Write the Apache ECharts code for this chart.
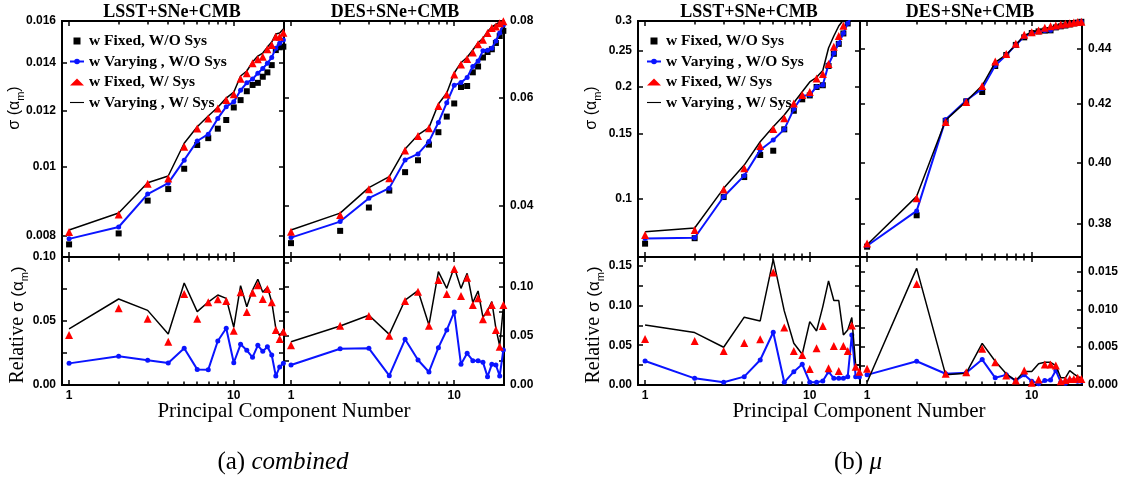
<!DOCTYPE html>
<html>
<head>
<meta charset="utf-8">
<title>PCA sigma(alpha_m)</title>
<script src="https://cdn.jsdelivr.net/npm/echarts@6/dist/echarts.min.js"></script>
<style>
  html, body { margin: 0; padding: 0; background: #fff; }
  #chart { width: 1122px; height: 478px; }
</style>
</head>
<body>
<div id="chart"></div>
<script>
// principal component number (x axis, log scale)
var pcNumber = [1, 2, 3, 4, 5, 6, 7, 8, 9, 10, 11, 12, 13, 14, 15, 16, 17, 18, 19, 20];
var xMajorTicks = [1, 10];
var xMinorTicks = [2, 3, 4, 5, 6, 7, 8, 9, 20];

var seriesNames = ['w Fixed, W/O Sys', 'w Varying , W/O Sys', 'w Fixed, W/ Sys', 'w Varying , W/ Sys'];

// (a) combined, LSST+SNe+CMB : sigma(alpha_m)
var aLsstFixedNoSys = [0.00779, 0.00807, 0.00897, 0.00931, 0.00994, 0.01073, 0.01097, 0.01131, 0.01163, 0.01211, 0.01240, 0.01276, 0.01302, 0.01311, 0.01337, 0.01356, 0.01388, 0.01457, 0.01470, 0.01473];
var aLsstVaryNoSys  = [0.00793, 0.00824, 0.00916, 0.00949, 0.01022, 0.01087, 0.01111, 0.01169, 0.01214, 0.01233, 0.01280, 0.01311, 0.01327, 0.01352, 0.01373, 0.01396, 0.01423, 0.01465, 0.01489, 0.01505];
var aLsstFixedSys   = [0.00811, 0.00858, 0.00947, 0.00963, 0.01067, 0.01132, 0.01169, 0.01207, 0.01240, 0.01264, 0.01328, 0.01352, 0.01396, 0.01414, 0.01426, 0.01461, 0.01481, 0.01521, 0.01521, 0.01541];
var aLsstVarySys    = [0.00816, 0.00862, 0.00950, 0.00971, 0.01079, 0.01138, 0.01178, 0.01212, 0.01248, 0.01272, 0.01340, 0.01362, 0.01402, 0.01429, 0.01443, 0.01471, 0.01495, 0.01534, 0.01539, 0.01559];
// relative sigma
var aLsstRelVaryNoSys = [0.0169, 0.0224, 0.0193, 0.0172, 0.0287, 0.0122, 0.0120, 0.0344, 0.0443, 0.0174, 0.0318, 0.0271, 0.0216, 0.0310, 0.0263, 0.0299, 0.0234, 0.0070, 0.0141, 0.0169];
var aLsstRelFixedSys  = [0.0390, 0.0599, 0.0518, 0.0338, 0.0711, 0.0518, 0.0646, 0.0669, 0.0656, 0.0424, 0.0724, 0.0570, 0.0721, 0.0779, 0.0672, 0.0750, 0.0646, 0.0430, 0.0359, 0.0416];
var aLsstRelVarySys   = [0.0438, 0.0672, 0.0583, 0.0398, 0.0797, 0.0573, 0.0648, 0.0703, 0.0677, 0.0451, 0.0776, 0.0612, 0.0742, 0.0826, 0.0724, 0.0763, 0.0651, 0.0443, 0.0385, 0.0430];

// (a) combined, DES+SNe+CMB
var aDesFixedNoSys = [0.03476, 0.03640, 0.03973, 0.04234, 0.04537, 0.04744, 0.05031, 0.05271, 0.05589, 0.05871, 0.06245, 0.06269, 0.06599, 0.06745, 0.06976, 0.07122, 0.07195, 0.07367, 0.07562, 0.07710];
var aDesVaryNoSys  = [0.03549, 0.03769, 0.04115, 0.04273, 0.04750, 0.04858, 0.05088, 0.05465, 0.05888, 0.06285, 0.06351, 0.06473, 0.06745, 0.06886, 0.07157, 0.07168, 0.07222, 0.07422, 0.07649, 0.07880];
var aDesFixedSys   = [0.03629, 0.03865, 0.04257, 0.04436, 0.04919, 0.05198, 0.05350, 0.05818, 0.06072, 0.06545, 0.06795, 0.06937, 0.07110, 0.07333, 0.07458, 0.07649, 0.07793, 0.07836, 0.07932, 0.07995];
var aDesVarySys    = [0.03653, 0.03890, 0.04282, 0.04462, 0.04950, 0.05217, 0.05362, 0.05859, 0.06106, 0.06582, 0.06841, 0.06982, 0.07175, 0.07374, 0.07498, 0.07688, 0.07822, 0.07896, 0.07970, 0.08060];
var aDesRelVaryNoSys = [0.0204, 0.0370, 0.0374, 0.0095, 0.0466, 0.0255, 0.0133, 0.0381, 0.0561, 0.0745, 0.0211, 0.0323, 0.0248, 0.0248, 0.0231, 0.0085, 0.0211, 0.0204, 0.0092, 0.0357];
var aDesRelFixedSys  = [0.0405, 0.0605, 0.0704, 0.0503, 0.0857, 0.0952, 0.0605, 0.1071, 0.0929, 0.1184, 0.0908, 0.1095, 0.0816, 0.0885, 0.0670, 0.0748, 0.0816, 0.0561, 0.0391, 0.0816];
var aDesRelVarySys   = [0.0442, 0.0602, 0.0711, 0.0517, 0.0867, 0.0962, 0.0612, 0.1156, 0.0986, 0.1201, 0.0986, 0.1140, 0.0840, 0.0959, 0.0691, 0.0758, 0.0850, 0.0578, 0.0398, 0.0799];

// (b) mu, LSST+SNe+CMB
var bLsstFixedNoSys = [0.0759, 0.0785, 0.1012, 0.1145, 0.1312, 0.1347, 0.1537, 0.1724, 0.1850, 0.1895, 0.1996, 0.2018, 0.2273, 0.2450, 0.2605, 0.2778, 0.2955, 0.309, 0.318, 0.325];
var bLsstVaryNoSys  = [0.0783, 0.0787, 0.1014, 0.1155, 0.1353, 0.1439, 0.1537, 0.1742, 0.1888, 0.1900, 0.2000, 0.2021, 0.2294, 0.2458, 0.2614, 0.2781, 0.2957, 0.309, 0.318, 0.325];
var bLsstFixedSys   = [0.0801, 0.0826, 0.1061, 0.1208, 0.1387, 0.1540, 0.1645, 0.1802, 0.1900, 0.1935, 0.2103, 0.2163, 0.2301, 0.2560, 0.2735, 0.2914, 0.3056, 0.317, 0.325, 0.330];
var bLsstVarySys    = [0.0817, 0.0836, 0.1068, 0.1233, 0.1424, 0.1562, 0.1679, 0.1812, 0.1939, 0.2059, 0.2119, 0.2210, 0.2539, 0.2735, 0.2909, 0.302, 0.311, 0.320, 0.330, 0.340];
var bLsstRelVaryNoSys = [0.0302, 0.0084, 0.0034, 0.0105, 0.0315, 0.0664, 0.0034, 0.0168, 0.0261, 0.0034, 0.0034, 0.0050, 0.0168, 0.0084, 0.0084, 0.0084, 0.0105, 0.0630, 0.0105, 0.0101];
var bLsstRelFixedSys  = [0.0579, 0.0554, 0.0428, 0.0529, 0.0576, 0.1414, 0.0722, 0.0428, 0.0378, 0.0202, 0.0462, 0.0743, 0.0210, 0.0491, 0.0176, 0.0491, 0.0428, 0.0747, 0.0230, 0.0168];
var bLsstRelVarySys   = [0.0756, 0.0659, 0.0475, 0.0853, 0.0806, 0.1580, 0.0932, 0.0525, 0.0387, 0.0797, 0.0680, 0.0986, 0.1310, 0.1062, 0.1062, 0.0630, 0.0693, 0.0848, 0.0252, 0.0252];

// (b) mu, DES+SNe+CMB
var bDesFixedNoSys = [0.3729, 0.3828, 0.4142, 0.4210, 0.4243, 0.4336, 0.4376, 0.4413, 0.4441, 0.4457, 0.4463, 0.4466, 0.4467, 0.4478, 0.4482, 0.4485, 0.4489, 0.4493, 0.4496, 0.4499];
var bDesVaryNoSys  = [0.3732, 0.3842, 0.4147, 0.4213, 0.4255, 0.4338, 0.4376, 0.4413, 0.4444, 0.4457, 0.4463, 0.4466, 0.4467, 0.4478, 0.4482, 0.4485, 0.4489, 0.4493, 0.4496, 0.4499];
var bDesFixedSys   = [0.3739, 0.3883, 0.4138, 0.4208, 0.4264, 0.4352, 0.4380, 0.4417, 0.4451, 0.4460, 0.4466, 0.4477, 0.4482, 0.4485, 0.4489, 0.4492, 0.4494, 0.4496, 0.4498, 0.4499];
var bDesVarySys    = [0.3735, 0.3889, 0.4144, 0.4210, 0.4266, 0.4349, 0.4377, 0.4414, 0.4448, 0.4460, 0.4468, 0.4474, 0.4479, 0.4483, 0.4487, 0.4490, 0.4493, 0.4495, 0.4497, 0.4499];
var bDesRelVaryNoSys = [0.00134, 0.00314, 0.00148, 0.00161, 0.00336, 0.00095, 0.00134, 0.00059, 0.00134, 0.00050, 0.00016, 0.00059, 0.00066, 0.00190, 0.00037, 0.00024, 0.00066, 0.00059, 0.00050, 0.00050];
var bDesRelFixedSys  = [0.00214, 0.01335, 0.00148, 0.00169, 0.00478, 0.00301, 0.00125, 0.00059, 0.00190, 0.00029, 0.00073, 0.00270, 0.00270, 0.00257, 0.00050, 0.00066, 0.00080, 0.00080, 0.00095, 0.00080];
var bDesRelVarySys   = [0.00037, 0.01540, 0.00134, 0.00156, 0.00550, 0.00314, 0.00148, 0.00059, 0.00178, 0.00178, 0.00280, 0.00300, 0.00300, 0.00257, 0.00095, 0.00095, 0.00190, 0.00148, 0.00110, 0.00095];

// tick labels
var aLsstTopLabels = ['0.008', '0.01', '0.012', '0.014', '0.016'];
var aDesTopLabels = ['0.04', '0.06', '0.08'];
var bLsstTopLabels = ['0.1', '0.15', '0.2', '0.25', '0.3'];
var bDesTopLabels = ['0.38', '0.40', '0.42', '0.44'];
var aRelLabels = ['0.00', '0.05', '0.10'];
var bLsstRelLabels = ['0.00', '0.05', '0.10', '0.15'];
var bDesRelLabels = ['0.000', '0.005', '0.010', '0.015'];
var aLsstRelTicks = [0, 0.025, 0.05, 0.075, 0.1];
var aDesRelTicks = [0, 0.025, 0.05, 0.075, 0.1, 0.125];
var bLsstRelTicks = [0, 0.025, 0.05, 0.075, 0.1, 0.125, 0.15];
var bDesRelTicks = [0, 0.0025, 0.005, 0.0075, 0.01, 0.0125, 0.015];

var xMin = -0.043, xMax = 1.305;
var tickFont = { color: '#000', fontFamily: 'Liberation Sans', fontWeight: 'bold', fontSize: 12 };

var grids = [], xAxes = [], yAxes = [], series = [];

function addPanel(p) {
  var gi = grids.length;
  grids.push({ left: p.left, top: p.top, width: p.width, height: p.height, containLabel: false });
  var fy = p.logY ? function (v) { return Math.log10(v); } : function (v) { return v; };

  var xi = xAxes.length;
  [['bottom', xMajorTicks, 5, p.xLabels], ['bottom', xMinorTicks, 3.5, false],
   ['top', xMajorTicks, 5, false], ['top', xMinorTicks, 3.5, false]].forEach(function (a) {
    xAxes.push({
      type: 'value', gridIndex: gi, position: a[0], min: xMin, max: xMax,
      axisLine: { show: true, onZero: false, lineStyle: { color: '#000', width: 2 } },
      axisTick: { show: true, inside: true, length: a[2], customValues: a[1].map(Math.log10),
                  lineStyle: { color: '#000', width: 1.5 } },
      axisLabel: Object.assign({ show: a[3], margin: 5, customValues: xMajorTicks.map(Math.log10),
                  formatter: function (v) { return String(Math.round(Math.pow(10, v))); } }, tickFont),
      splitLine: { show: false }
    });
  });

  var yi = yAxes.length;
  var labelVals = p.yLabels.map(Number).map(fy);
  ['left', 'right'].forEach(function (pos) {
    yAxes.push({
      type: 'value', gridIndex: gi, position: pos, min: fy(p.yMin), max: fy(p.yMax),
      axisLine: { show: true, onZero: false, lineStyle: { color: '#000', width: 2 } },
      axisTick: { show: true, inside: true, length: 5, customValues: p.yTicks.map(fy),
                  lineStyle: { color: '#000', width: 1.5 } },
      axisLabel: Object.assign({
        show: pos === 'left' ? p.leftLabels : p.rightLabels, margin: 6, customValues: labelVals,
        formatter: function (v) {
          var best = '', bd = Infinity;
          labelVals.forEach(function (lv, i) { var d = Math.abs(lv - v); if (d < bd) { bd = d; best = p.yLabels[i]; } });
          return best;
        }
      }, tickFont),
      splitLine: { show: false }
    });
  });

  function pts(arr) {
    return pcNumber.map(function (n, i) { return [Math.log10(n), fy(arr[i])]; });
  }
  var base = { xAxisIndex: xi, yAxisIndex: yi, animation: false };
  if (p.data[0]) {
    series.push(Object.assign({ type: 'scatter', name: seriesNames[0], symbol: 'rect', symbolSize: 6,
      itemStyle: { color: '#000', opacity: 1 }, data: pts(p.data[0]), z: 2 }, base));
  }
  series.push(Object.assign({ type: 'line', name: seriesNames[1], symbol: 'circle', symbolSize: 5,
    showSymbol: true, itemStyle: { color: '#0a14ff', opacity: 1 }, lineStyle: { color: '#0a14ff', width: 2 },
    data: pts(p.data[1]), z: 3 }, base));
  series.push(Object.assign({ type: 'line', name: seriesNames[3], symbol: 'none',
    itemStyle: { color: '#000' }, lineStyle: { color: '#000', width: 1.5 },
    data: pts(p.data[3]), z: 4 }, base));
  series.push(Object.assign({ type: 'scatter', name: seriesNames[2], symbol: 'triangle', symbolSize: 8,
    itemStyle: { color: '#ff0000', opacity: 1 }, data: pts(p.data[2]), z: 5 }, base));
}

// panel (a) combined
addPanel({ left: 62, top: 21, width: 222, height: 236, logY: true, yMin: 0.00748, yMax: 0.016,
  yLabels: aLsstTopLabels, yTicks: aLsstTopLabels.map(Number), leftLabels: true, rightLabels: false, xLabels: false,
  data: [aLsstFixedNoSys, aLsstVaryNoSys, aLsstFixedSys, aLsstVarySys] });
addPanel({ left: 62, top: 257, width: 222, height: 128, logY: false, yMin: 0, yMax: 0.10,
  yLabels: aRelLabels, yTicks: aLsstRelTicks, leftLabels: true, rightLabels: false, xLabels: true,
  data: [null, aLsstRelVaryNoSys, aLsstRelFixedSys, aLsstRelVarySys] });
addPanel({ left: 284, top: 21, width: 220, height: 236, logY: true, yMin: 0.0330, yMax: 0.08,
  yLabels: aDesTopLabels, yTicks: aDesTopLabels.map(Number), leftLabels: false, rightLabels: true, xLabels: false,
  data: [aDesFixedNoSys, aDesVaryNoSys, aDesFixedSys, aDesVarySys] });
addPanel({ left: 284, top: 257, width: 220, height: 128, logY: false, yMin: 0, yMax: 0.1306,
  yLabels: aRelLabels, yTicks: aDesRelTicks, leftLabels: false, rightLabels: true, xLabels: true,
  data: [null, aDesRelVaryNoSys, aDesRelFixedSys, aDesRelVarySys] });
// panel (b) mu
addPanel({ left: 638, top: 21, width: 222, height: 236, logY: true, yMin: 0.0699, yMax: 0.3,
  yLabels: bLsstTopLabels, yTicks: bLsstTopLabels.map(Number), leftLabels: true, rightLabels: false, xLabels: false,
  data: [bLsstFixedNoSys, bLsstVaryNoSys, bLsstFixedSys, bLsstVarySys] });
addPanel({ left: 638, top: 257, width: 222, height: 128, logY: false, yMin: 0, yMax: 0.161,
  yLabels: bLsstRelLabels, yTicks: bLsstRelTicks, leftLabels: true, rightLabels: false, xLabels: true,
  data: [null, bLsstRelVaryNoSys, bLsstRelFixedSys, bLsstRelVarySys] });
addPanel({ left: 860, top: 21, width: 222, height: 236, logY: true, yMin: 0.3697, yMax: 0.4502,
  yLabels: bDesTopLabels, yTicks: bDesTopLabels.map(Number), leftLabels: false, rightLabels: true, xLabels: false,
  data: [bDesFixedNoSys, bDesVaryNoSys, bDesFixedSys, bDesVarySys] });
addPanel({ left: 860, top: 257, width: 222, height: 128, logY: false, yMin: 0, yMax: 0.0169,
  yLabels: bDesRelLabels, yTicks: bDesRelTicks, leftLabels: false, rightLabels: true, xLabels: true,
  data: [null, bDesRelVaryNoSys, bDesRelFixedSys, bDesRelVarySys] });

var legendText = { color: '#000', fontFamily: 'Liberation Serif', fontWeight: 'bold', fontSize: 15.5, lineHeight: 15 };
var legendIcons = ['path://M0,0H6V6H0Z', null, 'triangle', 'path://M0,0H20V1.6H0Z'];
function legendAt(left) {
  return {
    data: seriesNames.map(function (n, i) { return legendIcons[i] ? { name: n, icon: legendIcons[i] } : { name: n }; }),
    orient: 'vertical', left: left, top: 33, itemWidth: 14, itemHeight: 7, symbolKeepAspect: true,
    itemGap: 4.5, padding: 0, selectedMode: false, textStyle: legendText
  };
}

function txt(x, y, text, font, rot, rich) {
  var st = { text: text, font: font, fill: '#000', align: 'center', verticalAlign: 'middle',
             textAlign: 'center', textVerticalAlign: 'middle' };
  if (rich) st.rich = rich;
  return { type: 'text', x: x, y: y, rotation: rot || 0, silent: true, style: st };
}
var sansRich = {
  s: { fontFamily: 'Liberation Sans', fontSize: 16, lineHeight: 22, fill: '#000' },
  sub: { fontFamily: 'Liberation Sans', fontSize: 11, lineHeight: 11, verticalAlign: 'bottom', fill: '#000' }
};
var serifRich = {
  r: { fontFamily: 'Liberation Serif', fontSize: 20, lineHeight: 24, fill: '#000' },
  s: { fontFamily: 'Liberation Sans', fontSize: 17, lineHeight: 24, fill: '#000' },
  sub: { fontFamily: 'Liberation Sans', fontSize: 11, lineHeight: 11, verticalAlign: 'bottom', fill: '#000' }
};
var capRich = {
  r: { fontFamily: 'Liberation Serif', fontSize: 25, fill: '#000' },
  i: { fontFamily: 'Liberation Serif', fontStyle: 'italic', fontSize: 25, fill: '#000' }
};

var option = {
  backgroundColor: '#fff',
  animation: false,
  grid: grids,
  xAxis: xAxes,
  yAxis: yAxes,
  legend: [legendAt(69), legendAt(646)],
  series: series,
  graphic: [
    txt(172, 12, 'LSST+SNe+CMB', 'bold 18px "Liberation Serif"'),
    txt(395, 12, 'DES+SNe+CMB', 'bold 18px "Liberation Serif"'),
    txt(749, 12, 'LSST+SNe+CMB', 'bold 18px "Liberation Serif"'),
    txt(970, 12, 'DES+SNe+CMB', 'bold 18px "Liberation Serif"'),
    txt(15, 108, '{s|σ (α}{sub|m}{s|)}', '16px "Liberation Sans"', Math.PI / 2, sansRich),
    txt(592, 108, '{s|σ (α}{sub|m}{s|)}', '16px "Liberation Sans"', Math.PI / 2, sansRich),
    txt(18, 325, '{r|Relative }{s|σ (α}{sub|m}{s|)}', '20px "Liberation Serif"', Math.PI / 2, serifRich),
    txt(594, 325, '{r|Relative }{s|σ (α}{sub|m}{s|)}', '20px "Liberation Serif"', Math.PI / 2, serifRich),
    txt(284, 411, 'Principal Component Number', '21px "Liberation Serif"'),
    txt(859, 411, 'Principal Component Number', '21px "Liberation Serif"'),
    txt(283, 462, '{r|(a) }{i|combined}', '25px "Liberation Serif"', 0, capRich),
    txt(858, 462, '{r|(b) }{i|μ}', '25px "Liberation Serif"', 0, capRich)
  ]
};

var chart = echarts.init(document.getElementById('chart'), null, { renderer: 'canvas' });
chart.setOption(option);
</script>
</body>
</html>
